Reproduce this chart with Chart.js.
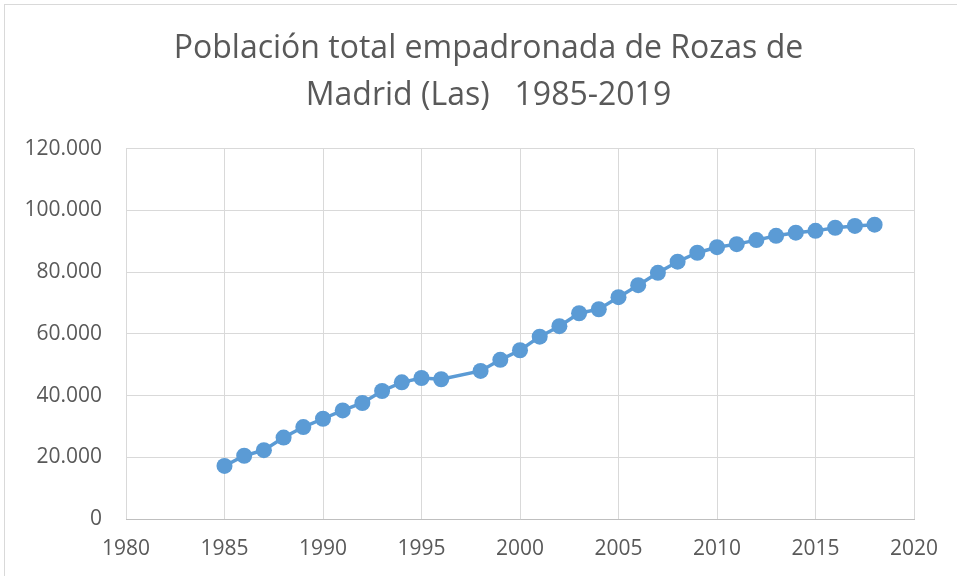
<!DOCTYPE html>
<html>
<head>
<meta charset="utf-8">
<script src="https://cdn.jsdelivr.net/npm/chart.js@4/dist/chart.umd.min.js"></script>
<style>
    html, body { margin: 0; padding: 0; background: #fff; overflow: hidden; }
    #frame { position: absolute; left: 4px; top: 4px; width: 980px; height: 600px; border: 1px solid #d9d9d9; }
    #wrap { position: absolute; left: 0; top: 0; width: 957px; height: 576px; }
</style>
</head>
<body>
<div id="frame"></div>
<div id="wrap"><canvas id="myCanvas" width="957" height="576"></canvas></div>
<script>
// años y población empadronada
const years = [1985, 1986, 1987, 1988, 1989, 1990, 1991, 1992, 1993, 1994, 1995, 1996,
    1998, 1999, 2000, 2001, 2002, 2003, 2004, 2005, 2006, 2007, 2008, 2009, 2010,
    2011, 2012, 2013, 2014, 2015, 2016, 2017, 2018];
const population = [17200, 20500, 22300, 26400, 29800, 32500, 35200, 37600, 41500, 44300, 45700, 45300,
    48000, 51600, 54700, 59100, 62500, 66700, 68000, 71900, 75800, 79800, 83400, 86300, 88100,
    89100, 90400, 91800, 92800, 93400, 94400, 95000, 95400];
const titleLines = ['Población total empadronada de Rozas de', 'Madrid (Las)   1985-2019'];

const textColor = '#595959';
const gridColor = '#d9d9d9';
const lineColor = '#5b9bd5';

function fmtThousands(v) {
    return String(v).replace(/\B(?=(\d{3})+(?!\d))/g, '.');
}

const points = years.map((y, i) => ({x: y, y: population[i]}));

const ctx = document.getElementById('myCanvas');
new Chart(ctx, {
    type: 'line',
    data: {
        datasets: [{
            data: points,
            borderColor: lineColor,
            backgroundColor: lineColor,
            borderWidth: 3.5,
            pointRadius: 8,
            pointHoverRadius: 8,
            pointBorderWidth: 0,
            tension: 0
        }]
    },
    options: {
        responsive: false,
        animation: false,
        layout: {
            padding: {left: 20, right: 0, top: 0, bottom: 0}
        },
        plugins: {
            legend: {display: false},
            tooltip: {enabled: false},
            title: {
                display: true,
                text: titleLines,
                color: textColor,
                font: {family: 'Open Sans', size: 32, weight: 'normal', lineHeight: 1.45},
                padding: {top: 26, bottom: 30}
            }
        },
        scales: {
            x: {
                type: 'linear',
                min: 1980,
                max: 2020,
                ticks: {
                    stepSize: 5,
                    color: textColor,
                    font: {family: 'Open Sans', size: 21},
                    padding: 17,
                    callback: v => String(v)
                },
                grid: {color: gridColor, lineWidth: 1, drawTicks: false},
                border: {color: '#bfbfbf', width: 1},
                afterFit: scale => { scale.height = 57; }
            },
            y: {
                min: 0,
                max: 120000,
                ticks: {
                    stepSize: 20000,
                    color: textColor,
                    font: {family: 'Open Sans', size: 21},
                    padding: 24,
                    callback: v => fmtThousands(v)
                },
                grid: {color: gridColor, lineWidth: 1, drawTicks: false},
                border: {display: false},
                afterFit: scale => { scale.width = 106; }
            },
            // espacio a la derecha del área de trazado
            yRight: {
                position: 'right',
                min: 0,
                max: 120000,
                ticks: {display: false},
                grid: {display: false, drawTicks: false},
                border: {display: false},
                afterFit: scale => { scale.width = 43; }
            }
        }
    }
});
</script>
</body>
</html>
